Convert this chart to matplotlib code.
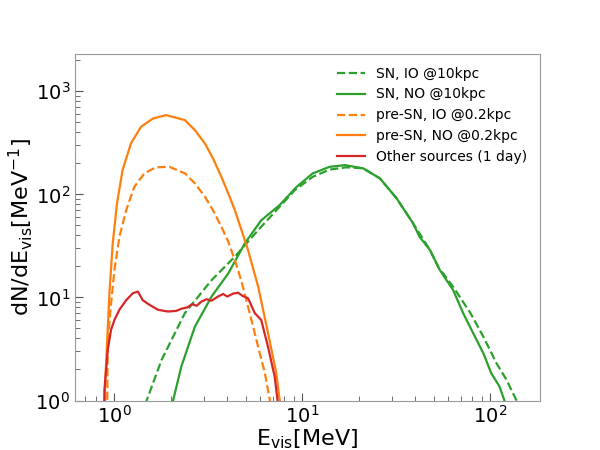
import matplotlib
matplotlib.use("Agg")
import matplotlib.pyplot as plt
import numpy as np

# SN, IO @10kpc (dashed green)
sn_io_E = [1.45, 1.49, 1.79, 2.38, 3.30, 4.39, 5.84, 9.15, 11.4, 14.0, 17.2, 21.1, 25.9, 31.8, 38.9,
           47.8, 53.9, 56.2, 63.5, 78.5, 91.9, 108, 122, 138, 145]
sn_io_N = [0.7, 1.0, 2.48, 7.05, 14.7, 24.9, 45, 110, 148, 174, 183, 179, 143, 91.5, 52.4,
           28.9, 18.5, 17.1, 12.7, 7.05, 4.17, 2.3, 1.59, 1.0, 0.7]

# SN, NO @10kpc (solid green)
sn_no_E = [2.0, 2.06, 2.28, 2.69, 3.30, 4.05, 4.96, 6.06, 7.6, 9.34, 11.4, 14.0, 16.9, 21.1, 25.9,
           31.8, 38.9, 42.1, 47.8, 53.9, 63.5, 71.8, 81.2, 91.9, 101.3, 112, 119, 125]
sn_no_N = [0.7, 1.0, 2.14, 5.2, 10.2, 17.1, 33.5, 56, 78.8, 118, 160, 185, 192, 179, 143,
           91.5, 52.4, 38.8, 28.9, 18.5, 11.8, 7.05, 4.5, 2.88, 1.84, 1.37, 1.0, 0.7]

# pre-SN, IO @0.2kpc (dashed orange)
pre_io_E = [0.91, 0.92, 0.926, 0.957, 1.005, 1.068, 1.16, 1.28, 1.45, 1.67, 1.97, 2.38, 2.69,
            3.04, 3.36, 3.72, 4.05, 4.39, 4.76, 5.16, 5.49, 5.84, 6.34, 6.74, 7.0]
pre_io_N = [0.6, 1.0, 3.6, 7.6, 18.5, 38.8, 70, 118, 160, 183, 185, 160, 128,
            95, 70, 48.5, 34.7, 23, 14.3, 8.1, 5.2, 3.3, 1.84, 1.0, 0.6]

# pre-SN, NO @0.2kpc (solid orange)
pre_no_E = [0.89, 0.896, 0.918, 0.945, 0.984, 1.037, 1.11, 1.23, 1.39, 1.61, 1.89, 2.38, 2.69,
            3.04, 3.36, 3.72, 4.05, 4.39, 4.76, 5.16, 5.84, 6.2, 6.59, 7.29, 7.6, 7.8]
pre_no_N = [0.6, 1.37, 3.6, 11, 33.5, 81.8, 172, 312, 452, 544, 587, 525, 420,
            312, 223, 148, 102, 70, 45, 28.7, 12.7, 7.6, 4.5, 1.84, 1.0, 0.6]

# Other sources (1 day) (red)
oth_E = [0.885, 0.889, 0.926, 0.964, 1.005, 1.068, 1.16, 1.26, 1.34, 1.42, 1.54, 1.71, 1.93,
         2.14, 2.3, 2.45, 2.6, 2.75, 2.91, 3.1, 3.3, 3.57, 3.8, 4.0, 4.3, 4.57, 4.8, 5.16, 5.6,
         6.06, 6.59, 7.15, 7.4, 7.6]
oth_N = [0.6, 1.27, 3.1, 4.85, 6.05, 7.6, 9.4, 11.0, 11.4, 9.4, 8.5, 7.6, 7.3,
         7.4, 7.8, 8.0, 8.6, 8.3, 9.1, 9.6, 9.3, 10.2, 10.8, 10.2, 10.9, 11.1, 10.4, 9.8, 7.05,
         6.05, 3.3, 1.7, 1.0, 0.6]

labels = ["SN, IO @10kpc", "SN, NO @10kpc", "pre-SN, IO @0.2kpc", "pre-SN, NO @0.2kpc",
          "Other sources (1 day)"]

fig = plt.figure(figsize=(6, 4.5), dpi=100)
ax = fig.add_subplot(111)
fig.subplots_adjust(left=0.125, right=0.9, bottom=0.11, top=0.88)

lw = 1.6
ax.plot(sn_io_E, sn_io_N, color="#2ca02c", ls="--", lw=lw, label=labels[0])
ax.plot(sn_no_E, sn_no_N, color="#2ca02c", ls="-", lw=lw, label=labels[1])
ax.plot(pre_io_E, pre_io_N, color="#ff7f0e", ls="--", lw=lw, label=labels[2])
ax.plot(pre_no_E, pre_no_N, color="#ff7f0e", ls="-", lw=lw, label=labels[3])
ax.plot(oth_E, oth_N, color="#d62728", ls="-", lw=lw, label=labels[4])

ax.set_xscale("log")
ax.set_yscale("log")
ax.set_xlim(0.62, 184)
ax.set_ylim(1, 2300)

for s in ax.spines.values():
    s.set_color("#999999")
ax.tick_params(which="both", direction="in", top=False, right=False, labelsize=14,
               color="#555555")
ax.tick_params(which="major", length=6)
ax.tick_params(which="minor", length=3.5)

ax.set_xlabel(r"E$_{\rm vis}$[MeV]", fontsize=16, labelpad=0)
ax.set_ylabel(r"dN/dE$_{\rm vis}$[MeV$^{-1}$]", fontsize=16, labelpad=0)

ax.legend(loc="upper right", frameon=False, fontsize=10)

fig.savefig("out.png", dpi=100)
